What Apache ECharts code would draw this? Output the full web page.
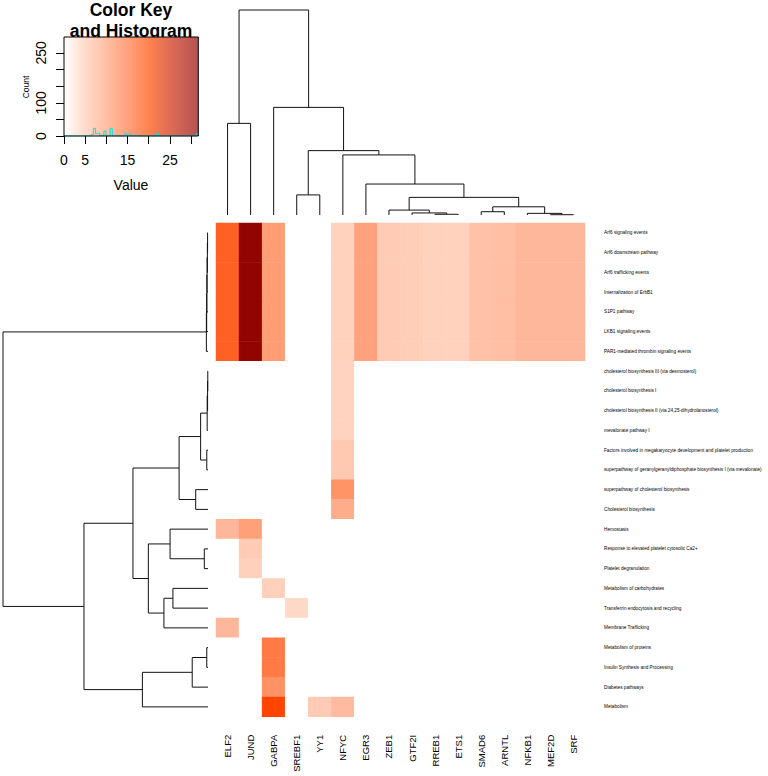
<!DOCTYPE html>
<html><head><meta charset="utf-8">
<script src="https://cdn.jsdelivr.net/npm/echarts@6/dist/echarts.min.js"></script>
<style>html,body{margin:0;padding:0;background:#fff}#c{width:768px;height:776px}</style>
</head><body><div id="c"></div>
<script>
// ---------- data ----------
const colLabels = ["ELF2","JUND","GABPA","SREBF1","YY1","NFYC","EGR3","ZEB1","GTF2I","RREB1","ETS1","SMAD6","ARNTL","NFKB1","MEF2D","SRF"];
const rowLabels = [
  "Arf6 signaling events",
  "Arf6 downstream pathway",
  "Arf6 trafficking events",
  "Internalization of ErbB1",
  "S1P1 pathway",
  "LKB1 signaling events",
  "PAR1-mediated thrombin signaling events",
  "cholesterol biosynthesis III (via desmosterol)",
  "cholesterol biosynthesis I",
  "cholesterol biosynthesis II (via 24,25-dihydrolanosterol)",
  "mevalonate pathway I",
  "Factors involved in megakaryocyte development and platelet production",
  "superpathway of geranylgeranyldiphosphate biosynthesis I (via mevalonate)",
  "superpathway of cholesterol biosynthesis",
  "Cholesterol biosynthesis",
  "Hemostasis",
  "Response to elevated platelet cytosolic Ca2+",
  "Platelet degranulation",
  "Metabolism of carbohydrates",
  "Transferrin endocytosis and recycling",
  "Membrane Trafficking",
  "Metabolism of proteins",
  "Insulin Synthesis and Processing",
  "Diabetes pathways",
  "Metabolism"
];
// one row per pathway, one value per column (ELF2 ... SRF)
const cellValues = [
  [22, 31.5, 15.5, 0, 0, 7, 14.5, 8, 7.5, 7, 7, 9.5, 9.8, 11, 11, 11],
  [22, 31.5, 15.5, 0, 0, 7, 14.5, 8, 7.5, 7, 7, 9.5, 9.8, 11, 11, 11],
  [22, 31.5, 15.5, 0, 0, 7, 14.5, 8, 7.5, 7, 7, 9.5, 9.8, 11, 11, 11],
  [22, 31.5, 15.5, 0, 0, 7, 14.5, 8, 7.5, 7, 7, 9.5, 9.8, 11, 11, 11],
  [22, 31.5, 15.5, 0, 0, 7, 14.5, 8, 7.5, 7, 7, 9.5, 9.8, 11, 11, 11],
  [22, 31.5, 15.5, 0, 0, 7, 14.5, 8, 7.5, 7, 7, 9.5, 9.8, 11, 11, 11],
  [22, 31.5, 15.5, 0, 0, 7, 14.5, 8, 7.5, 7, 7, 9.5, 9.8, 11, 11, 11],
  [0, 0, 0, 0, 0, 6.8, 0, 0, 0, 0, 0, 0, 0, 0, 0, 0],
  [0, 0, 0, 0, 0, 6.8, 0, 0, 0, 0, 0, 0, 0, 0, 0, 0],
  [0, 0, 0, 0, 0, 6.8, 0, 0, 0, 0, 0, 0, 0, 0, 0, 0],
  [0, 0, 0, 0, 0, 6.8, 0, 0, 0, 0, 0, 0, 0, 0, 0, 0],
  [0, 0, 0, 0, 0, 8.5, 0, 0, 0, 0, 0, 0, 0, 0, 0, 0],
  [0, 0, 0, 0, 0, 8.5, 0, 0, 0, 0, 0, 0, 0, 0, 0, 0],
  [0, 0, 0, 0, 0, 16.8, 0, 0, 0, 0, 0, 0, 0, 0, 0, 0],
  [0, 0, 0, 0, 0, 12.8, 0, 0, 0, 0, 0, 0, 0, 0, 0, 0],
  [11, 15, 0, 0, 0, 0, 0, 0, 0, 0, 0, 0, 0, 0, 0, 0],
  [0, 8, 0, 0, 0, 0, 0, 0, 0, 0, 0, 0, 0, 0, 0, 0],
  [0, 7.3, 0, 0, 0, 0, 0, 0, 0, 0, 0, 0, 0, 0, 0, 0],
  [0, 0, 7.3, 0, 0, 0, 0, 0, 0, 0, 0, 0, 0, 0, 0, 0],
  [0, 0, 0, 6, 0, 0, 0, 0, 0, 0, 0, 0, 0, 0, 0, 0],
  [11, 0, 0, 0, 0, 0, 0, 0, 0, 0, 0, 0, 0, 0, 0, 0],
  [0, 0, 20, 0, 0, 0, 0, 0, 0, 0, 0, 0, 0, 0, 0, 0],
  [0, 0, 20, 0, 0, 0, 0, 0, 0, 0, 0, 0, 0, 0, 0, 0],
  [0, 0, 17, 0, 0, 0, 0, 0, 0, 0, 0, 0, 0, 0, 0, 0],
  [0, 0, 24, 0, 8, 10.5, 0, 0, 0, 0, 0, 0, 0, 0, 0, 0]
];
// hclust-style merges: negative = leaf (1-based display position), positive = earlier merge; third = height
const rowMerges = [
  [-1, -2, 0.2], [1, -3, 0.3], [2, -4, 0.45], [3, -5, 0.55], [4, -6, 0.65], [5, -7, 0.8],
  [-8, -9, 0.1], [7, -10, 0.2], [8, -11, 0.4], [-12, -13, 0.6], [9, 10, 3.6], [-14, -15, 6.0],
  [11, 12, 14.1], [-17, -18, 1.8], [-16, 14, 18.5], [-19, -20, 17.1], [16, -21, 21.5],
  [15, 17, 29.1], [13, 18, 36.6], [-22, -23, 0.6], [20, -24, 7.7], [21, -25, 32.0],
  [19, 22, 60.5], [6, 23, 100]
];
const colMerges = [
  [-1, -2, 44.7], [-4, -5, 9.8], [-15, -16, 0.15], [-14, 3, 0.8], [-12, -13, 1.6], [5, 4, 4.0],
  [-10, -11, 0.35], [-9, 7, 1.0], [-8, 8, 2.4], [9, 6, 8.6], [-7, 10, 15.1], [-6, 11, 29.3],
  [2, 12, 31.4], [-3, 13, 52.5], [1, 14, 100]
];
const keyMax = 31.7;
const countMax = 298;
const keyXTicks = [0, 5, 10, 15, 20, 25, 30];
const keyXLabels = [0, 5, 15, 25];
const keyYTicks = [0, 50, 100, 150, 200, 250];
const keyYLabels = [0, 100, 250];
const histBins = 64;

// ---------- derived ----------
function dendro(merges) {
  const pos = [], ht = [], out = [];
  const info = r => r < 0 ? { p: -r - 0.5, h: 0 } : { p: pos[r - 1], h: ht[r - 1] };
  merges.forEach((m, k) => {
    const a = info(m[0]), b = info(m[1]);
    pos[k] = (a.p + b.p) / 2; ht[k] = m[2];
    out.push([a.p, a.h, b.p, b.h, m[2]]);
  });
  return out;
}
const rowSegs = dendro(rowMerges);
const colSegs = dendro(colMerges);

const heatData = [];
cellValues.forEach((row, i) => row.forEach((v, j) => heatData.push([j, i, v])));

const binW = keyMax / histBins;
const counts = new Array(histBins).fill(0);
cellValues.flat().forEach(v => { if (v > 0) counts[Math.min(histBins - 1, Math.floor(v / binW))]++; });
const histData = counts.map((c, b) => [b * binW, c]);
histData.push([keyMax, counts[histBins - 1]]);

const FONT = "'Liberation Sans', Arial, Helvetica, sans-serif";
const chart = echarts.init(document.getElementById('c'), null, { renderer: 'svg' });

function dendroItem(horizontal) {
  return function (params, api) {
    const p1 = api.value(0), h1 = api.value(1), p2 = api.value(2), h2 = api.value(3), h = api.value(4);
    const c = horizontal ? (p, hh) => api.coord([hh, p]) : (p, hh) => api.coord([p, hh]);
    return {
      type: 'polyline',
      shape: { points: [c(p1, h1), c(p1, h), c(p2, h), c(p2, h2)] },
      style: { stroke: '#111', lineWidth: 1, fill: null }
    };
  };
}

const keyStops = [
  { offset: 0, color: '#FFFFFF' }, { offset: 0.16, color: '#FFDACA' }, { offset: 0.32, color: '#FFBEA3' },
  { offset: 0.48, color: '#FFA07C' }, { offset: 0.63, color: '#FF834F' }, { offset: 0.8, color: '#DC6A55' },
  { offset: 1, color: '#B25352' }
];

chart.setOption({
  animation: false,
  backgroundColor: '#fff',
  textStyle: { fontFamily: FONT },
  graphic: [
    { type: 'text', x: 131, y: 10, style: { text: 'Color Key', font: 'bold 17.5px ' + FONT, fill: '#000', align: 'center', verticalAlign: 'middle' } },
    { type: 'text', x: 131, y: 31, style: { text: 'and Histogram', font: 'bold 17.5px ' + FONT, fill: '#000', align: 'center', verticalAlign: 'middle' } },
    { type: 'text', x: 131, y: 185, style: { text: 'Value', font: '14px ' + FONT, fill: '#000', align: 'center', verticalAlign: 'middle' } },
    { type: 'text', x: 26, y: 87, rotation: Math.PI / 2, style: { text: 'Count', font: '8.5px ' + FONT, fill: '#000', align: 'center', verticalAlign: 'middle' } }
  ],
  visualMap: {
    show: false, type: 'continuous', seriesIndex: 5, min: 0, max: 32, dimension: 2,
    inRange: { color: ['#FFFFFF', '#FFE6DA', '#FFCBB4', '#FFB092', '#FF9A70', '#FF7A45', '#FF4500', '#C42000', '#8B0000'] }
  },
  grid: [
    { left: 64, top: 37, width: 134.3, height: 99 },
    { left: 216, top: 10, width: 369, height: 205 },
    { left: 3, top: 223, width: 205, height: 493.75 },
    { left: 216, top: 223, width: 369, height: 493.75 }
  ],
  xAxis: [
    { gridIndex: 0, type: 'value', min: 0, max: keyMax, interval: 5,
      axisLine: { show: false }, splitLine: { show: false },
      axisTick: { show: true, length: 8, lineStyle: { color: '#000' }, customValues: keyXTicks },
      axisLabel: { fontSize: 14, color: '#000', margin: 17, fontFamily: FONT, customValues: keyXLabels,
        formatter: v => keyXLabels.includes(v) ? String(v) : '' } },
    { gridIndex: 1, type: 'value', min: 0, max: colLabels.length, show: false },
    { gridIndex: 2, type: 'value', min: 0, max: 100, inverse: true, show: false },
    { gridIndex: 3, type: 'category', data: colLabels, position: 'bottom',
      axisLine: { show: false }, axisTick: { show: false }, splitLine: { show: false },
      axisLabel: { rotate: 90, fontSize: 9.5, color: '#000', margin: 18, fontFamily: FONT, interval: 0, padding: [0, 0, 6, 0] } }
  ],
  yAxis: [
    { gridIndex: 0, type: 'value', min: 0, max: countMax, interval: 50,
      axisLine: { show: false }, splitLine: { show: false },
      axisTick: { show: true, length: 8, lineStyle: { color: '#000' }, customValues: keyYTicks },
      axisLabel: { fontSize: 14, color: '#000', margin: 16, rotate: 90, fontFamily: FONT, customValues: keyYLabels,
        formatter: v => keyYLabels.includes(v) ? String(v) : '' } },
    { gridIndex: 1, type: 'value', min: 0, max: 100, show: false },
    { gridIndex: 2, type: 'value', min: 0, max: rowLabels.length, inverse: true, show: false },
    { gridIndex: 3, type: 'category', data: rowLabels, inverse: true, position: 'right',
      axisLine: { show: false }, axisTick: { show: false }, splitLine: { show: false },
      axisLabel: { fontSize: 4.7, color: '#000', margin: 19, fontFamily: FONT, interval: 0 } }
  ],
  series: [
    { type: 'custom', xAxisIndex: 0, yAxisIndex: 0, z: 1, data: [[0, 0]], silent: true,
      renderItem: (params, api) => {
        const a = api.coord([0, countMax]), b = api.coord([keyMax, 0]);
        return { type: 'rect', shape: { x: a[0], y: a[1], width: b[0] - a[0], height: b[1] - a[1] },
          style: { fill: new echarts.graphic.LinearGradient(0, 0, 1, 0, keyStops) } };
      } },
    { type: 'line', xAxisIndex: 0, yAxisIndex: 0, z: 2, data: histData, step: 'end', symbol: 'none',
      lineStyle: { color: '#00E5E5', width: 1 }, silent: true },
    { type: 'custom', xAxisIndex: 0, yAxisIndex: 0, z: 3, data: [[0, 0]], silent: true,
      renderItem: (params, api) => {
        const a = api.coord([0, countMax]), b = api.coord([keyMax, 0]);
        return { type: 'rect', shape: { x: a[0], y: a[1], width: b[0] - a[0], height: b[1] - a[1] },
          style: { fill: null, stroke: '#000', lineWidth: 1 } };
      } },
    { type: 'custom', xAxisIndex: 1, yAxisIndex: 1, data: colSegs, renderItem: dendroItem(false), clip: false, silent: true },
    { type: 'custom', xAxisIndex: 2, yAxisIndex: 2, data: rowSegs, renderItem: dendroItem(true), clip: false, silent: true },
    { type: 'heatmap', xAxisIndex: 3, yAxisIndex: 3, data: heatData, itemStyle: { borderWidth: 0 }, emphasis: { disabled: true } }
  ]
});
</script></body></html>
